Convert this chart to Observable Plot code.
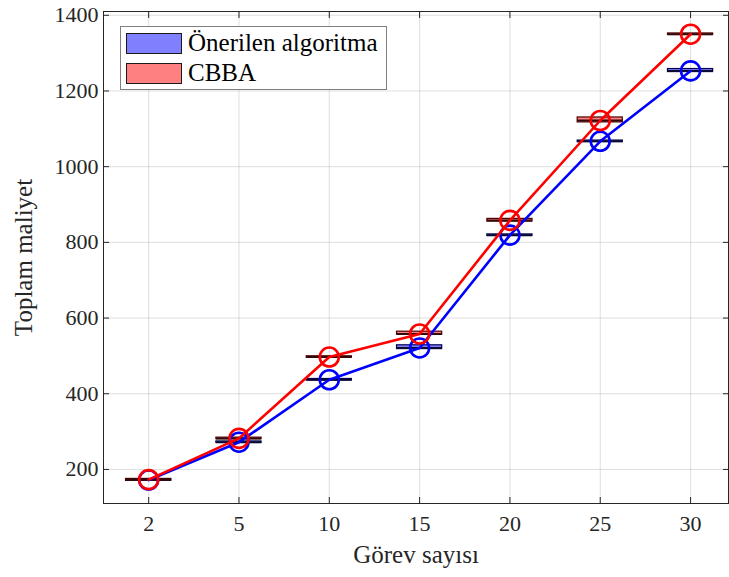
<!DOCTYPE html>
<html><head><meta charset="utf-8">
<script src="https://cdn.jsdelivr.net/npm/d3@7"></script>
<script src="https://cdn.jsdelivr.net/npm/@observablehq/plot@0.6"></script>
<style>
body{margin:0;background:#fff;}
#wrap{position:relative;width:729px;height:577px;}
#wrap svg text{font-family:"Liberation Serif",serif !important;}
#legend{position:absolute;left:120px;top:26px;width:265px;height:62px;border:1px solid #808080;background:#fff;font-family:"Liberation Serif",serif;font-size:25px;color:#000;}
.sw{position:absolute;left:5px;width:56px;height:21px;border:1px solid #1a1a1a;box-sizing:border-box;}
.lt{position:absolute;left:67px;line-height:24px;white-space:nowrap;}
</style></head>
<body><div id="wrap"></div>
<script>
const categories = ["2","5","10","15","20","25","30"];
const yTicks = [200,400,600,800,1000,1200,1400];
const seriesNames = ["Önerilen algoritma","CBBA"];
// values (mean / circle positions)
const oneriValues = [172, 272, 437, 521, 819, 1067, 1253];
const cbbaValues  = [173, 282, 497, 558, 858, 1122, 1350];
// box quartiles
const oneriQ1 = [170, 270, 435, 518, 817, 1065, 1250];
const oneriQ3 = [174, 274, 439, 528, 821, 1069, 1258];
const cbbaQ1  = [171, 280, 495, 556, 855, 1117, 1348];
const cbbaQ3  = [175, 284, 499, 564, 862, 1130, 1352];

const idx = categories.map((c,i)=>i+1);
const rowsOf = (vals,q1,q3,name)=>categories.map((c,i)=>({k:i+1,cat:c,series:name,v:vals[i],q1:q1[i],q3:q3[i]}));
const blue = rowsOf(oneriValues,oneriQ1,oneriQ3,seriesNames[0]);
const red  = rowsOf(cbbaValues,cbbaQ1,cbbaQ3,seriesNames[1]);
const hw = 0.25;
const serif = "Liberation Serif";

const chart = Plot.plot({
  width:729, height:577,
  marginLeft:103, marginRight:1, marginTop:11, marginBottom:74,
  x:{domain:[0.5,7.42], label:null},
  y:{domain:[110,1410], label:null},
  style:{fontFamily:"Liberation Serif, serif", fontSize:"22px", color:"#262626", background:"#fff", overflow:"visible", fontVariant:"normal"},
  marks:[
    Plot.gridY(yTicks,{stroke:"#262626", strokeOpacity:0.15}),
    Plot.gridX(idx,{stroke:"#262626", strokeOpacity:0.15}),
    Plot.frame({stroke:"#262626", strokeWidth:1}),
    Plot.axisY(yTicks,{tickSize:0, tickPadding:5, label:null, fontSize:22, fontFamily:serif, tickFormat:d=>String(d)}),
    Plot.axisY(yTicks,{anchor:"left", fill:"none", tickSize:6, dx:6, label:null}),
    Plot.axisY(yTicks,{anchor:"right", fill:"none", tickSize:6, dx:-6, label:null}),
    Plot.axisX(idx,{tickSize:0, tickPadding:12, label:null, fontSize:22, fontFamily:serif, tickFormat:i=>categories[i-1]}),
    Plot.axisX(idx,{anchor:"bottom", fill:"none", tickSize:6, dy:-6, label:null}),
    Plot.axisX(idx,{anchor:"top", fill:"none", tickSize:6, dy:6, label:null}),
    Plot.text(["Görev sayısı"],{frameAnchor:"bottom", dy:59, fontSize:25, fontFamily:serif, fill:"#262626", textAnchor:"middle"}),
    Plot.text(["Toplam maliyet"],{frameAnchor:"left", dx:-80, rotate:-90, fontSize:25, fontFamily:serif, fill:"#262626", textAnchor:"middle"}),
    // boxes
    Plot.rect(blue,{x1:d=>d.k-hw, x2:d=>d.k+hw, y1:"q1", y2:"q3", fill:"#8080ff", stroke:"#00004d", strokeWidth:1.2}),
    Plot.ruleY(blue,{y:"v", x1:d=>d.k-hw, x2:d=>d.k+hw, stroke:"#0a0a30", strokeWidth:2}),
    Plot.rect(red,{x1:d=>d.k-hw, x2:d=>d.k+hw, y1:"q1", y2:"q3", fill:"#ff8080", stroke:"#4d0000", strokeWidth:1.2}),
    Plot.ruleY(red,{y:"v", x1:d=>d.k-hw, x2:d=>d.k+hw, stroke:"#300a0a", strokeWidth:2}),
    // lines & circles
    Plot.line(blue,{x:"k", y:"v", stroke:"#0000ff", strokeWidth:2.6}),
    Plot.dot(blue,{x:"k", y:"v", r:9.5, stroke:"#0000ff", strokeWidth:2.6, fill:"none"}),
    Plot.line(red,{x:"k", y:"v", stroke:"#ff0000", strokeWidth:2.6}),
    Plot.dot(red,{x:"k", y:"v", r:9.5, stroke:"#ff0000", strokeWidth:2.6, fill:"none"})
  ]
});
const wrap = document.getElementById("wrap");
wrap.appendChild(chart);
const lg = document.createElement("div");
lg.id = "legend";
const colors = ["#8080ff","#ff8080"];
seriesNames.forEach((n,i)=>{
  const s = document.createElement("div"); s.className="sw";
  s.style.top = (6 + i*30) + "px"; s.style.background = colors[i];
  const t = document.createElement("div"); t.className="lt";
  t.style.top = (4 + i*30) + "px"; t.textContent = n;
  lg.appendChild(s); lg.appendChild(t);
});
wrap.appendChild(lg);
</script>
</body></html>
